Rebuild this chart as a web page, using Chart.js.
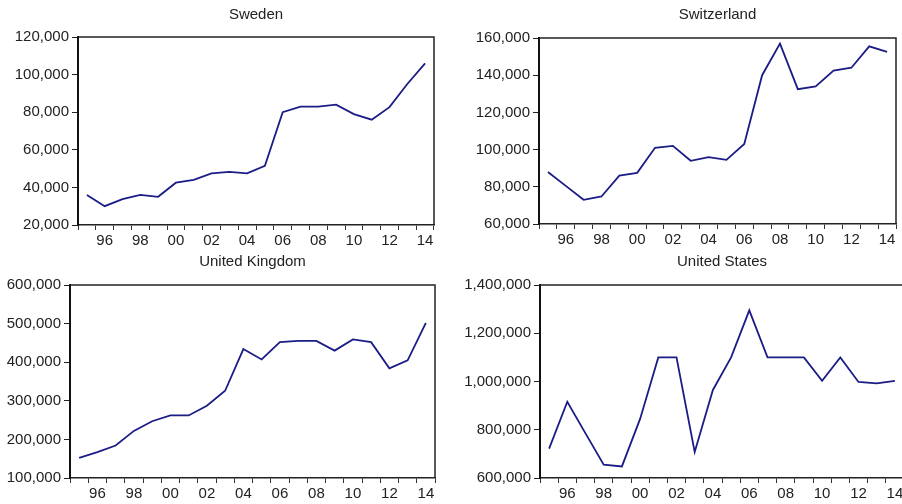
<!DOCTYPE html>
<html>
<head>
<meta charset="utf-8">
<script src="https://cdn.jsdelivr.net/npm/chart.js@4.4.1/dist/chart.umd.min.js"></script>
<style>
  html, body { margin: 0; padding: 0; background: #fff; overflow: hidden; }
  body { width: 902px; height: 504px; position: relative; }
  .panel { position: absolute; }
</style>
</head>
<body>
<div class="panel" style="left:0;top:0;width:451px;height:252px"><canvas id="sweden"></canvas></div>
<div class="panel" style="left:451px;top:0;width:451px;height:252px"><canvas id="switzerland"></canvas></div>
<div class="panel" style="left:0;top:252px;width:451px;height:252px"><canvas id="uk"></canvas></div>
<div class="panel" style="left:451px;top:252px;width:460px;height:252px"><canvas id="us"></canvas></div>
<script>
// ===== DATA =====
const years = [1995, 1996, 1997, 1998, 1999, 2000, 2001, 2002, 2003, 2004,
               2005, 2006, 2007, 2008, 2009, 2010, 2011, 2012, 2013, 2014];
const yearLabels = years.map(y => String(y).slice(2)); // '95', '96', ...

const swedenValues = [36000, 30000, 33800, 36000, 35000, 42500, 44000, 47500, 48300, 47500,
                      51500, 80000, 83000, 83000, 84000, 79000, 76000, 82700, 95000, 106000];
const switzerlandValues = [88000, 80500, 73000, 74800, 86000, 87500, 101000, 102000, 94000, 96000,
                           94500, 103000, 140000, 157000, 132500, 134000, 142500, 144000, 155500, 152500];
const ukValues = [152000, 167000, 184000, 222000, 247000, 262000, 262000, 287000, 326000, 434000,
                  407000, 452000, 455000, 455000, 430000, 459000, 452000, 384000, 405000, 502000];
const usValues = [722000, 916000, 785000, 655000, 648000, 845000, 1100000, 1100000, 708000, 965000,
                  1100000, 1295000, 1100000, 1100000, 1100000, 1003000, 1100000, 998000, 992000, 1003000];

const swedenTicks = [20000, 40000, 60000, 80000, 100000, 120000];
const switzerlandTicks = [60000, 80000, 100000, 120000, 140000, 160000];
const ukTicks = [100000, 200000, 300000, 400000, 500000, 600000];
const usTicks = [600000, 800000, 1000000, 1200000, 1400000];

// ===== LAYOUT (per panel) =====
const panels = [
  { id: 'sweden', title: 'Sweden', values: swedenValues, ticks: swedenTicks, yW: 78, xH: 27, top: 37, right: 17, titleY: 15 },
  { id: 'switzerland', title: 'Switzerland', values: switzerlandValues, ticks: switzerlandTicks, yW: 88, xH: 28, top: 38, right: 6, titleY: 15 },
  { id: 'uk', title: 'United Kingdom', values: ukValues, ticks: ukTicks, yW: 70, xH: 26, top: 33, right: 16, titleY: 10 },
  { id: 'us', title: 'United States', values: usValues, ticks: usTicks, yW: 89, xH: 26, top: 33, right: 7, titleY: 10 }
];

const FONT = '"Liberation Sans", Arial, sans-serif';
const TEXT = '#222';

// title centred over plot + top/right frame lines
const panelFrame = {
  id: 'panelFrame',
  afterDraw(chart, args, opts) {
    const { ctx, chartArea } = chart;
    ctx.save();
    ctx.strokeStyle = '#222';
    ctx.lineWidth = 1.5;
    ctx.beginPath();
    ctx.moveTo(chartArea.left, chartArea.top);
    ctx.lineTo(chartArea.right, chartArea.top);
    ctx.lineTo(chartArea.right, chartArea.bottom);
    ctx.stroke();
    ctx.font = '15px ' + FONT;
    ctx.fillStyle = TEXT;
    ctx.textAlign = 'center';
    ctx.textBaseline = 'middle';
    ctx.fillText(opts.text, (chartArea.left + chartArea.right) / 2, opts.y);
    ctx.restore();
  }
};

panels.forEach(p => {
  const tickMin = p.ticks[0];
  const tickMax = p.ticks[p.ticks.length - 1];
  const step = p.ticks[1] - p.ticks[0];

  new Chart(document.getElementById(p.id), {
    type: 'line',
    data: {
      labels: yearLabels,
      datasets: [{
        data: p.values,
        borderColor: '#1c1c86',
        borderWidth: 1.8,
        pointRadius: 0,
        tension: 0,
        fill: false
      }]
    },
    options: {
      responsive: true,
      maintainAspectRatio: false,
      animation: false,
      events: [],
      layout: { padding: { top: p.top, right: p.right, left: 0, bottom: 0 } },
      plugins: {
        legend: { display: false },
        tooltip: { enabled: false },
        panelFrame: { text: p.title, y: p.titleY }
      },
      scales: {
        x: {
          type: 'category',
          offset: true,
          afterFit: s => { s.height = p.xH; },
          border: { display: true, color: '#222', width: 1.5 },
          grid: { offset: true, drawOnChartArea: false, drawTicks: true, tickLength: 5, color: '#333', lineWidth: 1 },
          ticks: {
            autoSkip: false,
            maxRotation: 0,
            padding: 2,
            color: TEXT,
            font: { family: FONT, size: 15 },
            callback: (val, i) => (i % 2 === 1 ? yearLabels[i] : '')
          }
        },
        y: {
          min: tickMin,
          max: tickMax,
          afterFit: s => { s.width = p.yW; },
          border: { display: true, color: '#111', width: 2 },
          grid: { drawOnChartArea: false, drawTicks: true, tickLength: 6, color: '#222', lineWidth: 1 },
          ticks: {
            stepSize: step,
            padding: 3,
            color: TEXT,
            font: { family: FONT, size: 15 },
            callback: v => v.toLocaleString('en-US')
          }
        }
      }
    },
    plugins: [panelFrame]
  });
});
</script>
</body>
</html>
